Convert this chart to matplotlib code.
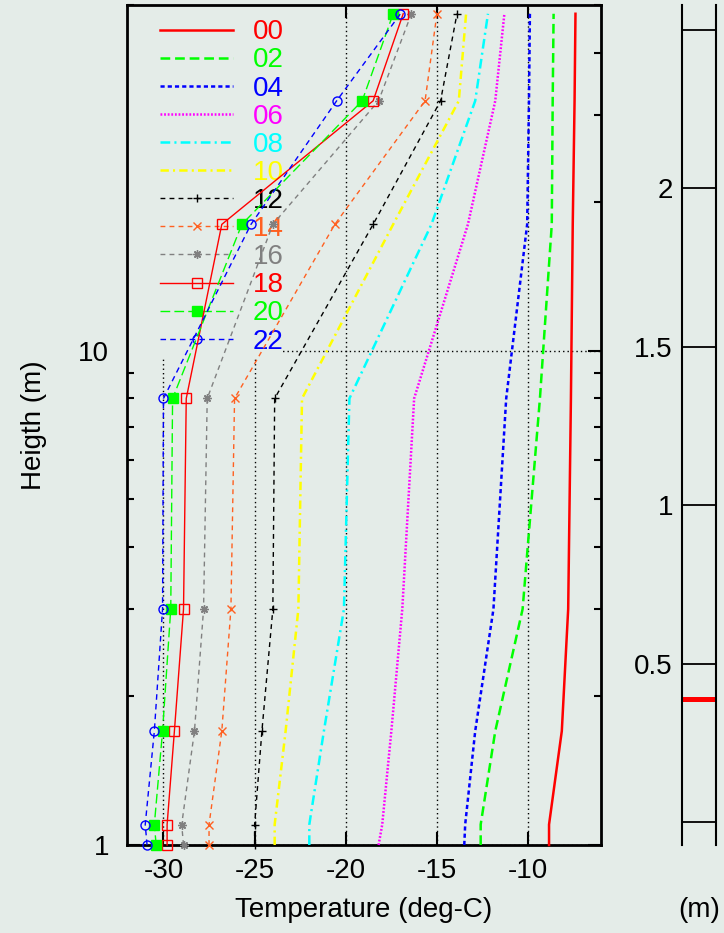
import numpy as np
import matplotlib
matplotlib.use("Agg")
import matplotlib.pyplot as plt
from matplotlib.patches import Rectangle
from matplotlib.ticker import FixedLocator, NullFormatter

plt.rcParams['font.family'] = ['Liberation Sans', 'DejaVu Sans']
plt.rcParams['lines.scale_dashes'] = False

#%% donnees
heights = [1.0, 1.1, 1.7, 3.0, 8.0, 18.0, 32.0, 48.0]

hours = ['00', '02', '04', '06', '08', '10', '12', '14', '16', '18', '20', '22']

t00 = [-8.85, -8.85, -8.15, -7.8, -7.65, -7.55, -7.45, -7.4]
t02 = [-12.6, -12.6, -11.8, -10.3, -9.35, -8.7, -8.65, -8.6]
t04 = [-13.5, -13.45, -12.9, -11.9, -11.2, -10.05, -9.95, -9.9]
t06 = [-18.2, -18.0, -17.5, -16.9, -16.25, -13.3, -11.8, -11.3]
t08 = [-22.0, -22.0, -21.2, -20.1, -19.8, -15.3, -12.9, -12.2]
t10 = [-23.9, -23.9, -23.3, -22.6, -22.4, -17.4, -13.8, -13.4]
t12 = [-25.0, -25.0, -24.6, -24.0, -23.9, -18.5, -14.8, -13.9]
t14 = [-27.5, -27.5, -26.8, -26.3, -26.1, -20.6, -15.65, -15.0]
t16 = [-28.9, -29.0, -28.3, -27.8, -27.6, -24.0, -18.2, -16.4]
t18 = [-29.8, -29.8, -29.4, -28.9, -28.75, -26.8, -18.5, -16.85]
t20 = [-30.4, -30.5, -30.05, -29.6, -29.5, -25.7, -19.1, -17.4]
t22 = [-30.9, -31.0, -30.5, -30.05, -30.0, -25.2, -20.5, -17.0]

temps = [t00, t02, t04, t06, t08, t10, t12, t14, t16, t18, t20, t22]

snow_depth = 0.39  # trait rouge panneau de droite (m)

#%% styles
colors = ['#ff0000', '#00ff00', '#0000ff', '#ff00ff', '#00ffff', '#ffff00',
          '#000000', '#ff6020', '#808080', '#ff0000', '#00ff00', '#0000ff']
dashes = [None, (7, 3.5), (3, 2.2), (1.3, 1.3), (7, 3, 1.5, 3), (6, 3, 1.5, 3),
          (3.5, 3), (3.5, 3), (3.5, 3), None, (7, 3), (4, 3)]
widths = [1.8, 1.8, 1.8, 1.8, 1.8, 1.8, 1, 1, 1, 1, 1, 1]
markers = [None] * 6 + ['+', 'x', (8, 2, 0), 's', 's', 'o']
mfill = [True] * 6 + [True, True, True, False, True, False]

bg = '#e4ece8'

fig = plt.figure(figsize=(7.24, 9.33), dpi=100, facecolor=bg)
ax = fig.add_axes([127 / 724, 88 / 933, 474 / 724, 840 / 933], facecolor=bg)

for i in range(len(hours)):
    kw = dict(color=colors[i], lw=widths[i], label=hours[i], zorder=3, clip_on=False)
    if markers[i] is not None:
        kw['marker'] = markers[i]
        kw['ms'] = 6.5 if markers[i] in ('s', 'o') else 6
        kw['mew'] = 1
        if not mfill[i]:
            kw['mfc'] = 'none'
    line, = ax.plot(temps[i], heights, **kw)
    if dashes[i] is not None:
        line.set_dashes(dashes[i])

ax.set_yscale('log')
ax.set_xlim(-32, -6)
ax.set_ylim(1, 50)

ax.set_xticks([-30, -25, -20, -15, -10])
ax.set_xticklabels(['-30', '-25', '-20', '-15', '-10'])
ax.yaxis.set_major_locator(FixedLocator([1, 10]))
ax.set_yticklabels(['1', '10'])
ax.yaxis.set_minor_locator(FixedLocator([2, 3, 4, 5, 6, 7, 8, 9, 20, 30, 40, 50]))
ax.yaxis.set_minor_formatter(NullFormatter())

ax.tick_params(which='both', direction='in', top=True, right=True, width=1.5,
               labelsize=20, colors='black')
ax.tick_params(which='major', length=9.5)
ax.tick_params(which='minor', length=5)
ax.tick_params(axis='x', pad=9)
ax.tick_params(axis='y', pad=13)
for s in ax.spines.values():
    s.set_linewidth(2)

ax.set_axisbelow(True)
ax.grid(True, which='major', color='black', lw=1.0, linestyle=(0, (1, 2.2)))

# fond opaque de la legende
ax.add_patch(Rectangle((0, 0.581), 0.329, 0.419, transform=ax.transAxes,
                       facecolor=bg, edgecolor='none', zorder=1))

leg = ax.legend(loc='upper left', bbox_to_anchor=(0.0696, 0.983), frameon=False,
                fontsize=20, labelcolor='linecolor', handlelength=2.63,
                handletextpad=0.7, labelspacing=0.076, borderpad=0, borderaxespad=0,
                numpoints=1)
leg.set_zorder(2)

ax.set_xlabel('Temperature (deg-C)', fontsize=20)
ax.xaxis.set_label_coords(0.5, -0.062)
ax.set_ylabel('Heigth (m)', fontsize=20)
ax.yaxis.set_label_coords(-0.168, 0.5)

#%% panneau de droite
ax2 = fig.add_axes([682 / 724, 88 / 933, 34 / 724, 840 / 933], facecolor=bg)
ax2.set_ylim(-0.072, 2.579)
ax2.set_xlim(0, 1)
ax2.spines['top'].set_visible(False)
ax2.spines['bottom'].set_visible(False)
ax2.spines['left'].set_linewidth(1.5)
ax2.spines['right'].set_linewidth(1.5)
ax2.set_xticks([])
for v in [0, 0.5, 1, 1.5, 2, 2.5]:
    ax2.axhline(v, color='black', lw=1.3)
ax2.axhline(snow_depth, color='red', lw=3.6)
ax2.set_yticks([0.5, 1, 1.5, 2])
ax2.set_yticklabels(['0.5', '1', '1.5', '2'])
ax2.tick_params(axis='y', length=0, pad=6.5, labelsize=20)
ax2.set_xlabel('(m)', fontsize=20)
ax2.xaxis.set_label_coords(0.5, -0.062)

fig.savefig('out.png', dpi=100, facecolor=bg)
